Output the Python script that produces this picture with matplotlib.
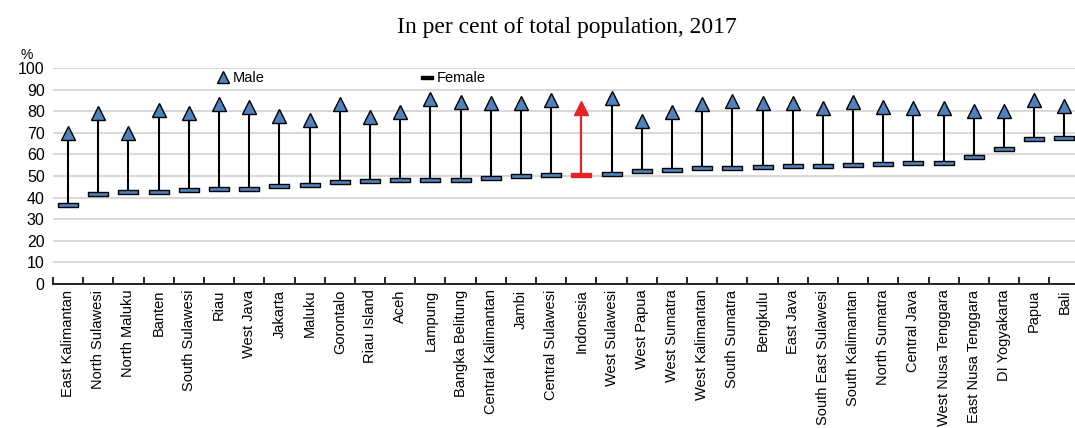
import matplotlib
matplotlib.use("Agg")
import matplotlib.pyplot as plt
from matplotlib.lines import Line2D
from matplotlib.path import Path
from matplotlib.ticker import FixedLocator, NullFormatter
import numpy as np

regions = [
    "East Kalimantan", "North Sulawesi", "North Maluku", "Banten", "South Sulawesi",
    "Riau", "West Java", "Jakarta", "Maluku", "Gorontalo", "Riau Island", "Aceh",
    "Lampung", "Bangka Belitung", "Central Kalimantan", "Jambi", "Central Sulawesi",
    "Indonesia", "West Sulawesi", "West Papua", "West Sumatra", "West Kalimantan",
    "South Sumatra", "Bengkulu", "East Java", "South East Sulawesi", "South Kalimantan",
    "North Sumatra", "Central Java", "West Nusa Tenggara", "East Nusa Tenggara",
    "DI Yogyakarta", "Papua", "Bali",
]
male = [
    69.8, 79.2, 70.0, 80.5, 79.2, 83.5, 82.0, 78.0, 75.7, 83.2, 77.1, 79.4,
    85.5, 84.3, 83.8, 83.8, 85.4, 81.7, 86.2, 75.5, 79.5, 83.5, 84.8, 83.8,
    83.8, 81.5, 84.2, 82.0, 81.4, 81.4, 80.0, 80.3, 85.4, 82.2,
]
female = [
    36.5, 41.8, 42.6, 42.8, 43.7, 43.8, 43.8, 45.4, 45.8, 47.4, 47.8, 48.0,
    48.3, 48.3, 49.1, 50.2, 50.6, 50.6, 50.9, 52.5, 52.9, 53.8, 53.7, 54.2,
    54.5, 54.6, 55.1, 55.4, 56.0, 55.8, 58.8, 62.6, 67.2, 67.4,
]
highlight = "Indonesia"

blue = "#4F81BD"
red = "#E8222A"
grid = "#D9D9D9"

fig = plt.figure(figsize=(10.75, 4.28), dpi=100)
ax = fig.add_axes([53 / 1075, 1 - 284 / 428, 1022 / 1075, 216 / 428])

x = np.arange(len(regions))
male = np.array(male)
female = np.array(female)
is_hi = np.array([r == highlight for r in regions])

rect = Path([(-1, -0.24), (1, -0.24), (1, 0.24), (-1, 0.24), (-1, -0.24)], closed=True)

ax.vlines(x, female, male, color="black", lw=1.5, zorder=2)
ax.vlines(x[is_hi], female[is_hi], male[is_hi], color=red, lw=1.5, zorder=3)

ax.plot(x[~is_hi], female[~is_hi], ls="none", marker=rect, ms=15,
        mfc=blue, mec="black", mew=1.0, zorder=4)
ax.plot(x[is_hi], female[is_hi], ls="none", marker=rect, ms=15,
        mfc=red, mec=red, mew=1.0, zorder=4)
ax.plot(x[~is_hi], male[~is_hi], ls="none", marker="^", ms=10,
        mfc=blue, mec="black", mew=1.0, zorder=5)
ax.plot(x[is_hi], male[is_hi], ls="none", marker="^", ms=10,
        mfc=red, mec=red, mew=1.0, zorder=5)

ax.set_xlim(-0.5, 33.35)
ax.set_ylim(0, 100)
ax.set_yticks(np.arange(0, 101, 10))
ax.yaxis.grid(True, color=grid, lw=1.5)
ax.set_axisbelow(True)
ax.tick_params(axis="y", length=0, labelsize=11.5, pad=6)
for s in ["left", "right", "top"]:
    ax.spines[s].set_visible(False)
ax.spines["bottom"].set_linewidth(1.2)

ax.set_xticks(x)
ax.set_xticklabels(regions, rotation=90, fontsize=10.5)
ax.tick_params(axis="x", which="major", length=0, pad=4)
ax.xaxis.set_minor_locator(FixedLocator(np.arange(-0.5, len(regions), 1)))
ax.xaxis.set_minor_formatter(NullFormatter())
ax.tick_params(axis="x", which="minor", direction="in", length=5, width=1.2)

for lab in ax.get_xticklabels() + ax.get_yticklabels():
    lab.set_fontfamily("Liberation Sans")

handles = [
    Line2D([], [], ls="none", marker="^", ms=9, mfc=blue, mec="black", mew=1.0),
    Line2D([], [], ls="none", marker=rect, ms=9, mfc="black", mec="black"),
]
ax.legend(handles, ["Male", "Female"], ncol=2, frameon=False,
          loc="center", bbox_to_anchor=(0.292, 0.955), columnspacing=10.7,
          handlelength=0.8, handletextpad=0.3,
          prop={"family": "Liberation Sans", "size": 10.5})

fig.text(0.527, 0.935, "In per cent of total population, 2017", ha="center",
         va="center", fontsize=17, family="Liberation Serif")
fig.text(27 / 1075, 1 - 55 / 428, "%", ha="center", va="center", fontsize=10,
         family="Liberation Sans")

fig.savefig("out.png", dpi=100)
